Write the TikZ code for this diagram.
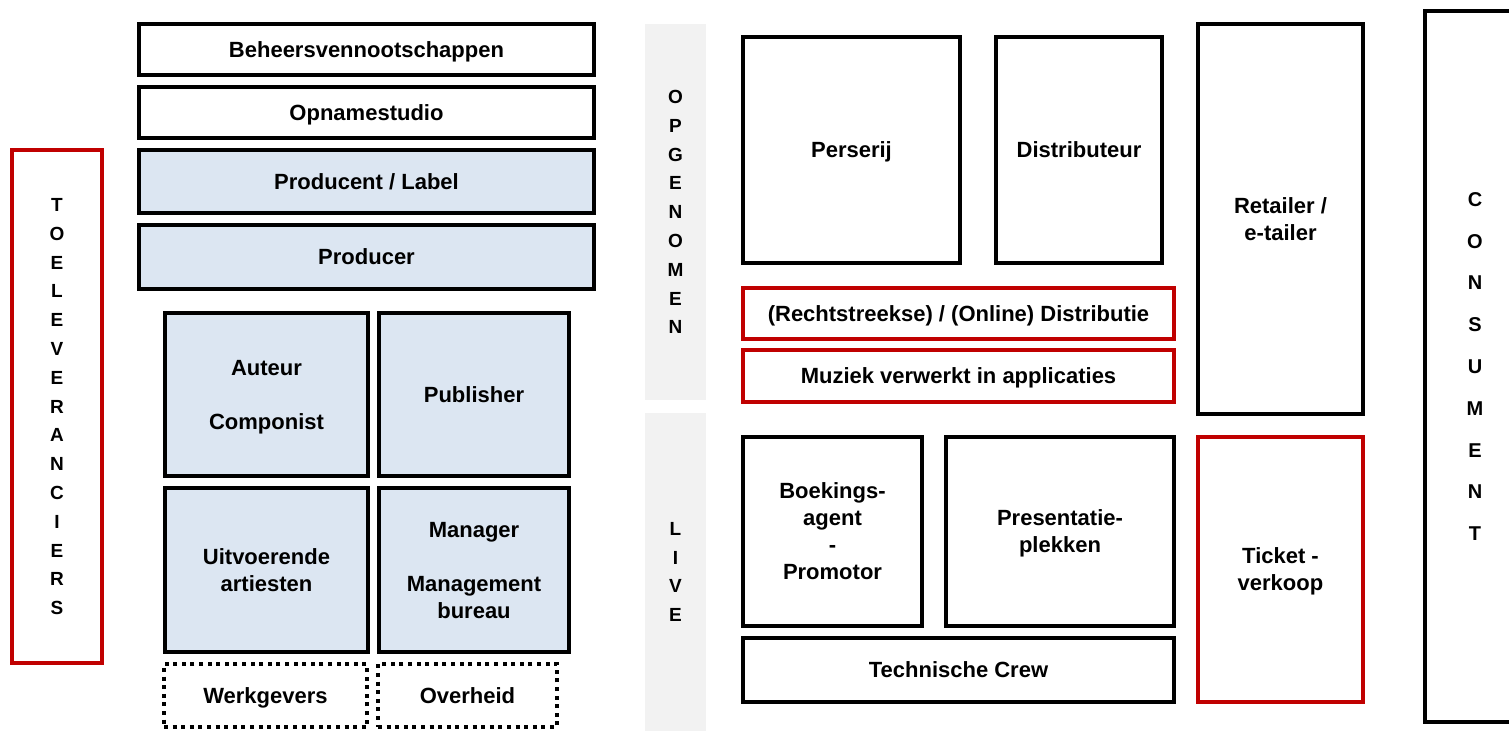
\documentclass[tikz,border=0pt]{standalone}
\usepackage{fontspec}
\setmainfont{Liberation Sans}
\definecolor{paleblue}{HTML}{DCE6F2}
\definecolor{band}{HTML}{F2F2F2}
\definecolor{darkred}{HTML}{C00000}
% box from corner (x1,y1) to (x2,y2), in pixel units
\newcommand\boxnode[7]{%
  \node[#1, minimum width={(#5-#3)*0.5pt}, minimum height={(#6-#4)*0.5pt}]
    (#2) at ({(#3+#5)/2},{(#4+#6)/2}) {#7};}
\begin{document}
\begin{tikzpicture}[x=0.5pt,y=-0.5pt,
  every node/.style={inner sep=0pt, outer sep=0pt, align=center, text depth=0pt,
    font=\fontsize{11}{13.5}\selectfont\bfseries},
  plain/.style={draw=black, line width=2pt, fill=white},
  blue/.style={plain, fill=paleblue},
  redbox/.style={draw=darkred, line width=1.8pt, fill=white},
  dots/.style={draw=black, line width=1.9pt, dash pattern=on 2pt off 2.3pt},
  bandbox/.style={fill=band},
  vert/.style={font=\fontsize{9.5}{14.4}\selectfont\bfseries},
  vertwide/.style={font=\fontsize{10}{20.9}\selectfont\bfseries}]
\useasboundingbox (0,0) rectangle (1509,731);

% suppliers side
\boxnode{redbox,vert}{toel}{12}{150}{102}{663}{T\\O\\E\\L\\E\\V\\E\\R\\A\\N\\C\\I\\E\\R\\S}
\boxnode{plain}{beheer}{139}{24}{594}{75}{Beheersvennootschappen}
\boxnode{plain}{opname}{139}{87}{594}{138}{Opnamestudio}
\boxnode{blue}{label}{139}{150}{594}{213}{Producent / Label}
\boxnode{blue}{producer}{139}{225}{594}{289}{Producer}
\boxnode{blue}{auteur}{165}{313}{368}{476}{Auteur\\[13.5pt]Componist}
\boxnode{blue}{publisher}{379}{313}{569}{476}{Publisher}
\boxnode{blue}{artiesten}{165}{488}{368}{652}{Uitvoerende\\artiesten}
\boxnode{blue}{manager}{379}{488}{569}{652}{Manager\\[13.5pt]Management\\bureau}
\boxnode{dots}{werkgevers}{164}{664}{367}{727}{Werkgevers}
\boxnode{dots}{overheid}{378}{664}{557}{727}{Overheid}

% recorded and live bands
\boxnode{bandbox,vert}{opgenomen}{645}{24}{706}{400}{O\\P\\G\\E\\N\\O\\M\\E\\N}
\boxnode{bandbox,vert}{live}{645}{413}{706}{731}{L\\I\\V\\E}

% recorded music chain
\boxnode{plain}{perserij}{743}{37}{960}{263}{Perserij}
\boxnode{plain}{distributeur}{996}{37}{1162}{263}{Distributeur}
\boxnode{redbox}{online}{743}{288}{1174}{339}{(Rechtstreekse) / (Online) Distributie}
\boxnode{redbox}{apps}{743}{350}{1174}{402}{Muziek verwerkt in applicaties}
\boxnode{plain}{retailer}{1198}{24}{1363}{414}{Retailer /\\e-tailer}

% live music chain
\boxnode{plain}{boekings}{743}{437}{922}{626}{Boekings-\\agent\\-\\Promotor}
\boxnode{plain}{presentatie}{946}{437}{1174}{626}{Presentatie-\\plekken}
\boxnode{plain}{crew}{743}{638}{1174}{702}{Technische Crew}
\boxnode{redbox}{ticket}{1198}{437}{1363}{702}{Ticket -\\verkoop}

% consumer
\boxnode{plain,vertwide}{consument}{1425}{11}{1525}{722}{C\\O\\N\\S\\U\\M\\E\\N\\T}
\end{tikzpicture}
\end{document}
